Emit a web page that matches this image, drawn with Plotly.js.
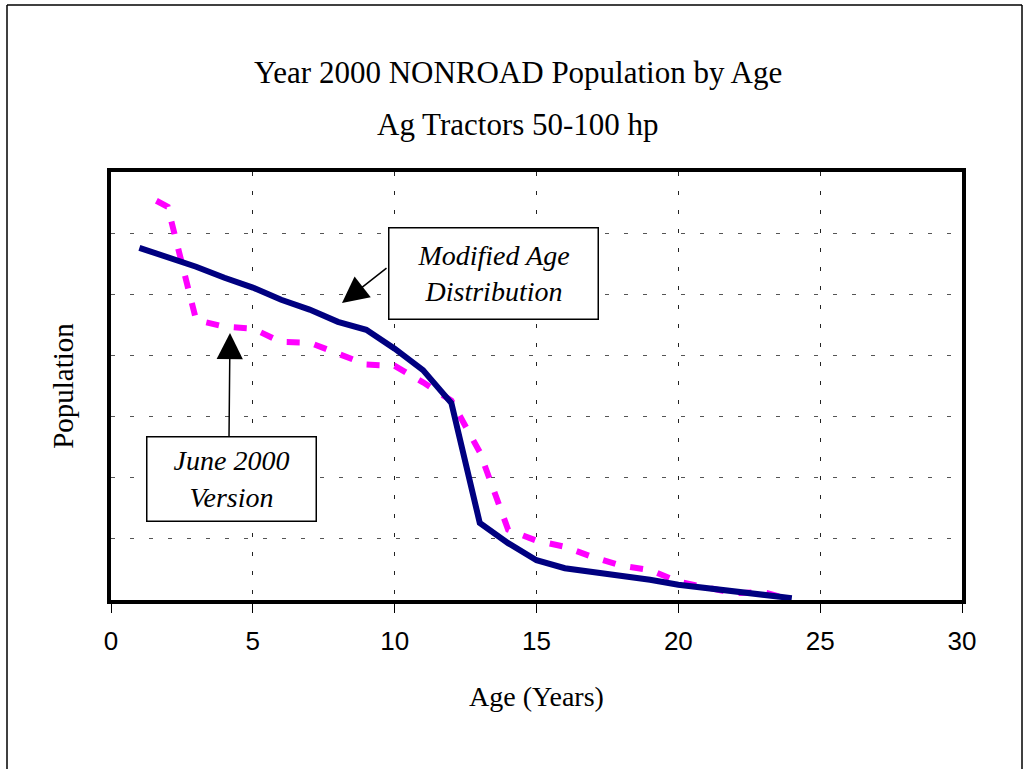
<!DOCTYPE html>
<html>
<head>
<meta charset="utf-8">
<script src="https://cdn.plot.ly/plotly-3.0.1.min.js"></script>
<style>html,body{margin:0;padding:0;background:#fff;}#chart{width:1026px;height:769px;}</style>
</head>
<body>
<div id="chart"></div>
<script>
// Data (population in gridline units, no scale shown)
var agesModified = [1,2,3,4,5,6,7,8,9,10,11,12,13,14,15,16,17,18,19,20,21,22,23,24];
var popModified  = [5.76,5.61,5.45,5.27,5.11,4.91,4.75,4.55,4.42,4.11,3.76,3.22,1.26,0.93,0.65,0.52,0.46,0.39,0.33,0.25,0.20,0.13,0.08,0.03];
var agesJune = [1.6,2,3,4,5,6,7,8,9,10,11,12,13,14,15,16,17,18,19,20,21,22,23,24];
var popJune  = [6.53,6.43,4.58,4.47,4.44,4.22,4.21,4.03,3.85,3.83,3.56,3.26,2.42,1.15,0.97,0.87,0.70,0.56,0.49,0.30,0.20,0.11,0.13,0.00];
var xTickVals = [0,5,10,15,20,25,30];
var xTickText = ['0','5','10','15','20','25','30'];
var titleLines = ['Year 2000 NONROAD Population by Age', 'Ag Tractors 50-100 hp'];
var xTitle = 'Age (Years)';
var yTitle = 'Population';
var labelModified = 'Modified Age<br>Distribution';
var labelJune = 'June 2000<br>Version';

// plot area in pixels
var L = 111, R = 962, T = 172, B = 600, W = 1026, H = 769;
var XR = [0, 30], YR = [0, 7];
function dx(px){ return XR[0] + (px - L) / (R - L) * (XR[1] - XR[0]); }
function dy(py){ return YR[0] + (B - py) / (B - T) * (YR[1] - YR[0]); }
function paperX(px){ return (px - L) / (R - L); }
function paperY(py){ return (B - py) / (B - T); }

var serif = 'Liberation Serif, Times New Roman, serif';
var sans = 'Liberation Sans, Arial, sans-serif';

var traces = [
  {x: agesJune, y: popJune, mode: 'lines', name: 'June 2000 Version',
   line: {color: '#ff00ff', width: 6, dash: '13px,15px'}, hoverinfo: 'skip'},
  {x: agesModified, y: popModified, mode: 'lines', name: 'Modified Age Distribution',
   line: {color: '#000080', width: 6}, hoverinfo: 'skip'}
];

var annotations = [
  {xref: 'paper', yref: 'paper', x: paperX(518), y: paperY(72), text: titleLines[0], showarrow: false,
   xanchor: 'center', yanchor: 'middle', font: {family: serif, size: 31, color: '#000'}},
  {xref: 'paper', yref: 'paper', x: paperX(518), y: paperY(124), text: titleLines[1], showarrow: false,
   xanchor: 'center', yanchor: 'middle', font: {family: serif, size: 31, color: '#000'}},
  // label boxes
  {xref: 'x', yref: 'y', x: dx(493), y: dy(273), text: labelModified, showarrow: false,
   xanchor: 'center', yanchor: 'middle', width: 206, height: 88, borderpad: 1,
   bordercolor: '#000', borderwidth: 1.5, bgcolor: '#fff',
   font: {family: serif, size: 28, color: '#000', style: 'italic'}},
  {xref: 'x', yref: 'y', x: dx(231), y: dy(479), text: labelJune, showarrow: false,
   xanchor: 'center', yanchor: 'middle', width: 166, height: 81, borderpad: 1,
   bordercolor: '#000', borderwidth: 1.5, bgcolor: '#fff',
   font: {family: serif, size: 28, color: '#000', style: 'italic'}},
  // arrows
  {xref: 'x', yref: 'y', axref: 'x', ayref: 'y', x: dx(342), y: dy(303), ax: dx(388), ay: dy(267),
   text: '', showarrow: true, arrowhead: 2, arrowsize: 3.5, arrowwidth: 1.5, arrowcolor: '#000', standoff: 0},
  {xref: 'x', yref: 'y', axref: 'x', ayref: 'y', x: dx(230), y: dy(333), ax: dx(229), ay: dy(438),
   text: '', showarrow: true, arrowhead: 2, arrowsize: 3.5, arrowwidth: 1.5, arrowcolor: '#000', standoff: 0}
];

var shapes = [
  // outer chart border (top, left, right)
  {type: 'line', xref: 'paper', yref: 'paper', x0: paperX(7), x1: paperX(1022), y0: paperY(5), y1: paperY(5), line: {color: '#000', width: 1.5}},
  {type: 'line', xref: 'paper', yref: 'paper', x0: paperX(7), x1: paperX(7), y0: paperY(5), y1: paperY(775), line: {color: '#000', width: 1.5}},
  {type: 'line', xref: 'paper', yref: 'paper', x0: paperX(1022), x1: paperX(1022), y0: paperY(5), y1: paperY(775), line: {color: '#000', width: 1.5}}
];

var layout = {
  width: W, height: H,
  margin: {l: L, r: W - R, t: T, b: H - B, pad: 0},
  paper_bgcolor: '#fff', plot_bgcolor: '#fff',
  showlegend: false,
  xaxis: {
    range: XR, tickvals: xTickVals, ticktext: xTickText, ticks: 'outside', ticklen: 9, tickwidth: 1, tickcolor: '#000',
    showline: true, linecolor: '#000', linewidth: 4, mirror: true,
    showgrid: true, gridcolor: '#222', gridwidth: 1, griddash: '4px,15px', zeroline: false,
    tickfont: {family: sans, size: 26, color: '#000'}, ticklabelstandoff: 6,
    title: {text: xTitle, font: {family: serif, size: 28, color: '#000'}, standoff: 32},
    automargin: false, fixedrange: true
  },
  yaxis: {
    range: YR, dtick: 1, showticklabels: false, ticks: '',
    showline: true, linecolor: '#000', linewidth: 4, mirror: true,
    showgrid: true, gridcolor: '#555', gridwidth: 1, griddash: '4px,15px', zeroline: false,
    title: {text: yTitle, font: {family: serif, size: 29, color: '#000'}, standoff: 26},
    automargin: false, fixedrange: true
  },
  annotations: annotations,
  shapes: shapes
};

Plotly.newPlot('chart', traces, layout, {staticPlot: true, displayModeBar: false});
</script>
</body>
</html>
